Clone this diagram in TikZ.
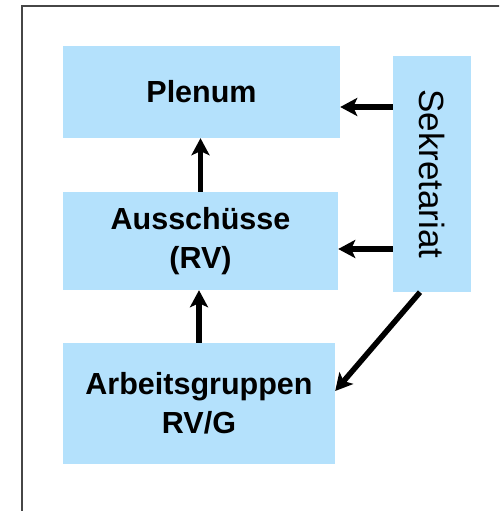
\documentclass[tikz,border=0pt]{standalone}
\usepackage{fontspec}
\setmainfont{Liberation Sans}
\usetikzlibrary{arrows.meta}
\definecolor{boxblue}{RGB}{180,225,252}
\definecolor{framegray}{RGB}{70,70,70}

\begin{document}
\begin{tikzpicture}
[x=1pt,y=-1pt,%
  boxDecorate/.style={shape=rectangle,fill=boxblue,inner sep=0pt,align=center,
    font=\fontsize{30.5}{39}\selectfont\bfseries},%
  arrowDecorate/.style={line width=5.5pt,-{Stealth[length=17pt,width=18pt,inset=4pt]}}]
\useasboundingbox (0,0) rectangle (499,511);
\clip (0,0) rectangle (499,511);
%% frame
\draw[framegray,line width=1.3pt] (22,530) |- (530,6);
%% boxes
\node (plen) at (201.5,92) [boxDecorate,minimum width=277pt,minimum height=92pt] {Plenum};
\node (aus) at (200.5,241) [boxDecorate,minimum width=275pt,minimum height=98pt] {Ausschüsse\\(RV)};
\node (arb) at (199,403.5) [boxDecorate,minimum width=272pt,minimum height=121pt] {Arbeitsgruppen\\RV/G};
\node (sek) at (432,174) [boxDecorate,minimum width=78pt,minimum height=236pt] {};
\node (sektext) at (sek.center) [rotate=-90,font=\fontsize{35}{40}\selectfont] {Sekretariat};
%% arrows
\draw[arrowDecorate] (aus.north) -- (aus.north |- plen.south);
\draw[arrowDecorate] (arb.north) -- (arb.north |- aus.south);
\draw[arrowDecorate] (sek.west |- 0,107) -- (plen.east |- 0,107);
\draw[arrowDecorate] (sek.west |- 0,249) -- (aus.east |- 0,249);
\draw[arrowDecorate] ([xshift=-12pt]sek.south) -- (arb.east |- 0,391);
\end{tikzpicture}
\end{document}
